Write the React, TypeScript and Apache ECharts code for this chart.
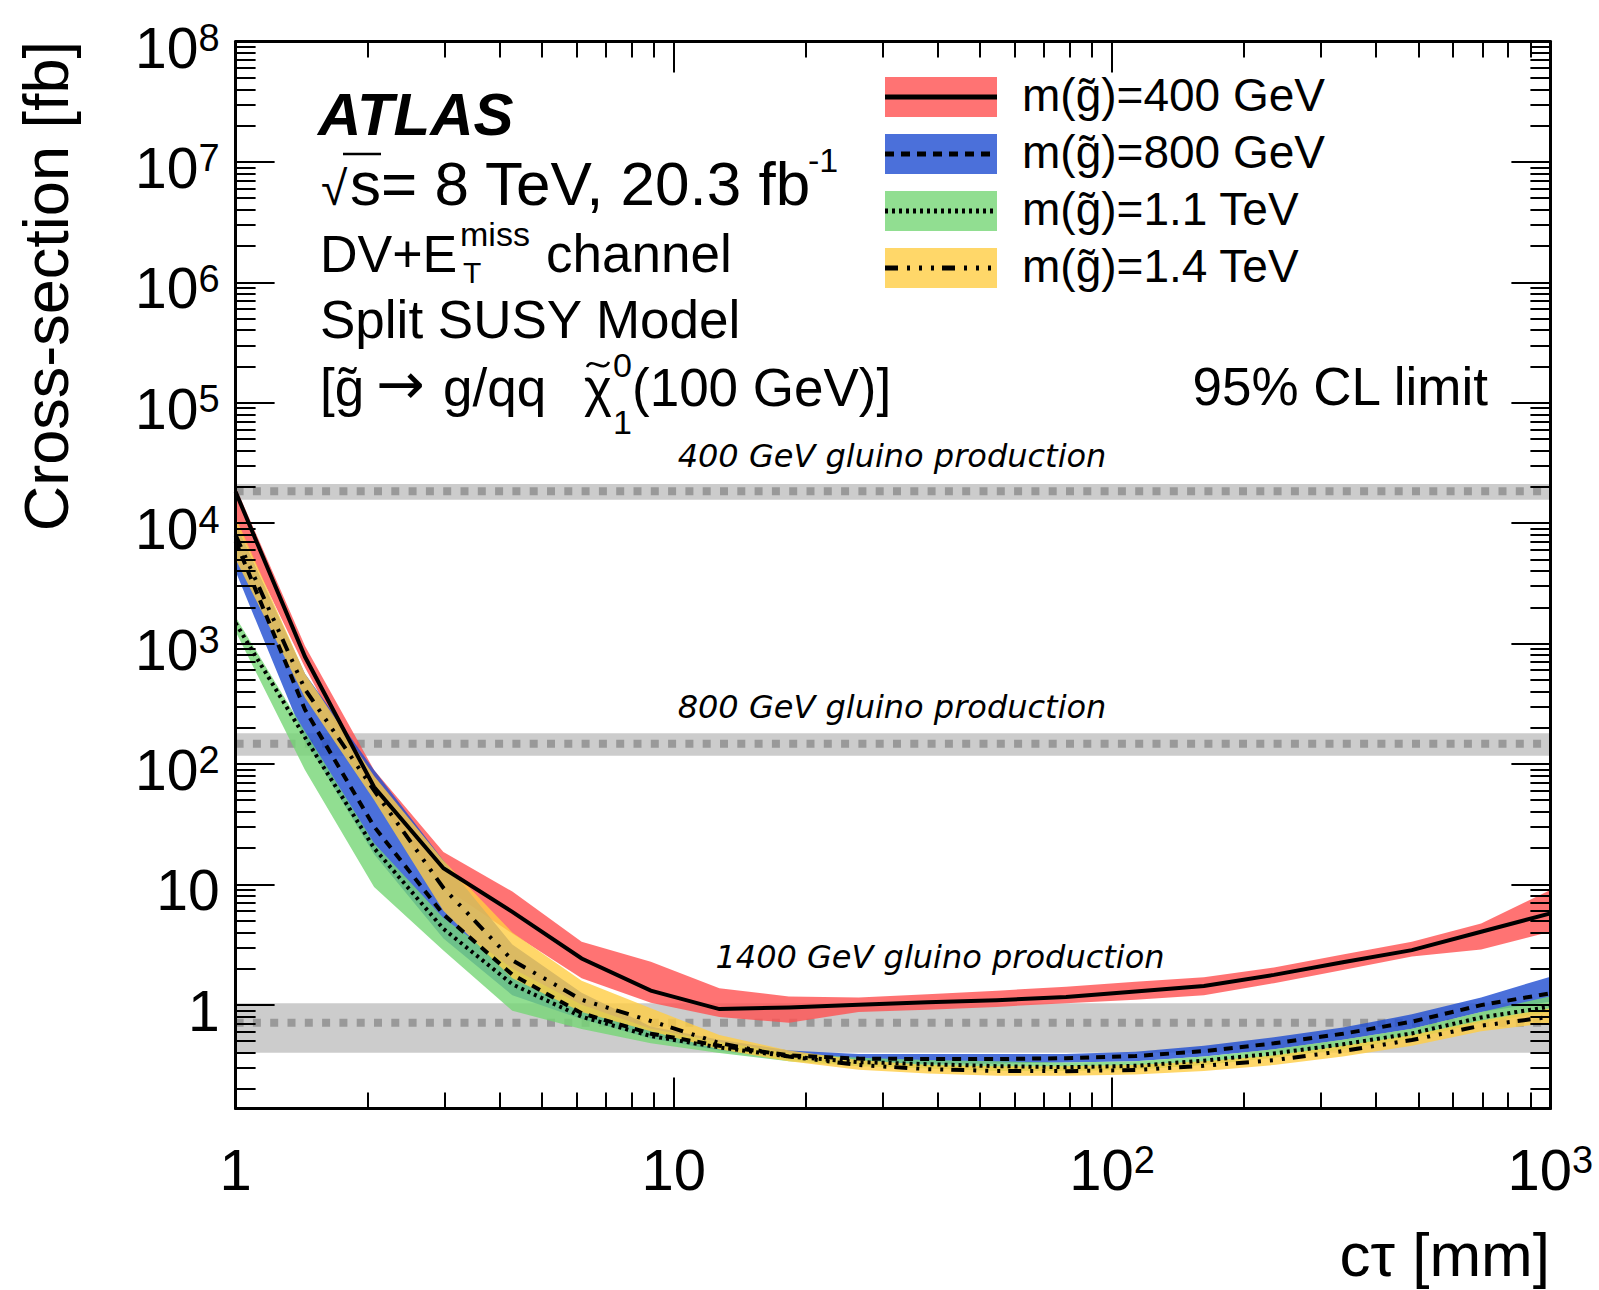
import React, { useEffect, useRef } from "react";
import * as echarts from "echarts";

// ---------------- data ----------------
// c·tau scan points [mm]
const CT = [1, 1.44, 2.07, 2.98, 4.28, 6.16, 8.86, 12.7, 18.3, 26.4, 37.9, 54.6, 78.5, 113, 162, 234, 336, 483, 695, 1000];

// m(gluino)=400 GeV : limit [fb] and band
const LIMIT_400 = [18200, 776, 64.3, 13.6, 5.9, 2.42, 1.31, 0.92, 0.95, 1.0, 1.05, 1.09, 1.16, 1.29, 1.43, 1.77, 2.25, 2.84, 4.04, 5.74];
const LOW_400 = [10000, 631, 55, 9.5, 3.9, 1.66, 1.04, 0.79, 0.71, 0.87, 0.91, 0.96, 1.03, 1.1, 1.2, 1.51, 1.94, 2.51, 2.88, 4.04];
const HIGH_400 = [20000, 955, 89, 18.6, 8.7, 3.33, 2.28, 1.37, 1.17, 1.15, 1.22, 1.31, 1.41, 1.55, 1.69, 2.04, 2.62, 3.33, 4.74, 8.97];

// m(gluino)=800 GeV
const LIMIT_800 = [7080, 282, 30.2, 5.62, 1.78, 0.85, 0.575, 0.457, 0.38, 0.357, 0.354, 0.354, 0.36, 0.375, 0.412, 0.478, 0.574, 0.723, 0.993, 1.245];
const LOW_800 = [3980, 158, 17.8, 3.55, 1.2, 0.76, 0.525, 0.417, 0.347, 0.324, 0.324, 0.324, 0.331, 0.339, 0.372, 0.427, 0.513, 0.631, 0.871, 1.06];
const HIGH_800 = [10000, 562, 89, 15.8, 3.16, 1.26, 0.66, 0.513, 0.417, 0.389, 0.389, 0.389, 0.389, 0.407, 0.457, 0.537, 0.646, 0.832, 1.15, 1.71];

// m(gluino)=1.1 TeV
const LIMIT_1100 = [1480, 166, 20, 4.27, 1.48, 0.794, 0.55, 0.442, 0.372, 0.334, 0.321, 0.309, 0.303, 0.311, 0.343, 0.394, 0.469, 0.578, 0.785, 0.962];
const LOW_1100 = [1260, 89, 9.5, 2.82, 0.89, 0.63, 0.479, 0.398, 0.339, 0.309, 0.295, 0.282, 0.282, 0.288, 0.316, 0.363, 0.427, 0.525, 0.708, 0.871];
const HIGH_1100 = [1660, 186, 21.9, 5.25, 2.0, 1.0, 0.631, 0.49, 0.398, 0.363, 0.347, 0.339, 0.331, 0.339, 0.372, 0.427, 0.513, 0.631, 0.871, 1.175];

// m(gluino)=1.4 TeV
const LIMIT_1400 = [7940, 417, 60.3, 9.33, 2.34, 1.1, 0.733, 0.481, 0.372, 0.316, 0.292, 0.282, 0.281, 0.287, 0.311, 0.347, 0.412, 0.509, 0.67, 0.794];
const LOW_1400 = [5010, 355, 50.1, 6.03, 1.66, 0.871, 0.603, 0.427, 0.339, 0.288, 0.269, 0.257, 0.257, 0.263, 0.282, 0.316, 0.372, 0.457, 0.603, 0.708];
const HIGH_1400 = [11200, 562, 79.4, 15.8, 3.98, 1.58, 0.933, 0.562, 0.417, 0.347, 0.316, 0.309, 0.309, 0.316, 0.339, 0.38, 0.457, 0.562, 0.741, 0.933];

// theoretical gluino production cross-sections [fb]
const GLUINO_LABELS = ["400 GeV gluino production", "800 GeV gluino production", "1400 GeV gluino production"];
const GLUINO_XSEC = [18400, 147, 0.71];
const GLUINO_XSEC_LOW = [15600, 117, 0.4];
const GLUINO_XSEC_HIGH = [21100, 180, 1.03];

const LEGEND_LABELS = ["m(g\u0303)=400 GeV", "m(g\u0303)=800 GeV", "m(g\u0303)=1.1 TeV", "m(g\u0303)=1.4 TeV"];

const X_MIN = 1;
const X_MAX = 1000;
const Y_MIN = 0.1375;
const Y_MAX = 1e8;

// ---------------- styling ----------------
const FONT = "'Liberation Sans', Arial, Helvetica, sans-serif";
const BAND_COLORS = ["rgba(255,80,80,0.8)", "rgba(30,76,209,0.8)", "rgba(117,214,117,0.8)", "rgba(255,205,67,0.8)"];
const DASHES: (number[] | "solid")[] = ["solid", [9, 7], [3, 4], [13, 9, 3, 9, 3, 9, 3, 8]];

function minorTicks(eLo: number, eHi: number): number[] {
  const out: number[] = [];
  for (let e = eLo; e < eHi; e++) for (let m = 2; m <= 9; m++) out.push(m * Math.pow(10, e));
  return out;
}
const X_MINOR = minorTicks(0, 3);
const Y_MINOR = minorTicks(-1, 8);

function powLabel(v: number): string {
  const l = Math.log10(v);
  const e = Math.round(l);
  if (Math.abs(l - e) > 1e-6) return "";
  if (e === 0) return "{b|1}";
  if (e === 1) return "{b|10}";
  return "{b|10}{s|" + e + "}";
}

const xRich = {
  b: { fontSize: 58, lineHeight: 58, fontFamily: FONT, color: "#000", verticalAlign: "bottom" },
  s: { fontSize: 38, lineHeight: 20, fontFamily: FONT, color: "#000", verticalAlign: "top" },
};
const yRich = {
  b: { fontSize: 57, lineHeight: 57, fontFamily: FONT, color: "#000", verticalAlign: "bottom" },
  s: { fontSize: 38, lineHeight: 20, fontFamily: FONT, color: "#000", verticalAlign: "top" },
};

const frameLine = { show: true, onZero: false, lineStyle: { color: "#000", width: 3 } };
const tickStyle = { color: "#000", width: 2 };

function axis(kind: "x" | "y", position: string, major: boolean, labels: boolean): any {
  const isX = kind === "x";
  return {
    type: "log",
    logBase: 10,
    min: isX ? X_MIN : Y_MIN,
    max: isX ? X_MAX : Y_MAX,
    position,
    z: 10,
    axisLine: major ? frameLine : { show: false },
    axisTick: major
      ? { show: true, inside: true, length: isX ? 31 : 39, lineStyle: tickStyle }
      : { show: true, inside: true, length: isX ? 16 : 20, lineStyle: tickStyle, customValues: isX ? X_MINOR : Y_MINOR },
    axisLabel: labels
      ? {
          show: true,
          margin: isX ? 32 : 16,
          padding: isX ? 0 : [12, 0, 0, 0],
          formatter: powLabel,
          rich: isX ? xRich : yRich,
          showMinLabel: true,
          showMaxLabel: true,
          hideOverlap: false,
        }
      : { show: false },
    splitLine: { show: false },
    minorTick: { show: false },
    minorSplitLine: { show: false },
  };
}

function bandSeries(low: number[], high: number[], color: string, z: number): any {
  return {
    type: "custom",
    xAxisIndex: 0,
    yAxisIndex: 0,
    z,
    silent: true,
    clip: true,
    data: [[CT[0], low[0]]],
    renderItem: (_params: any, api: any) => {
      const pts: number[][] = [];
      for (let i = 0; i < CT.length; i++) pts.push(api.coord([CT[i], high[i]]));
      for (let i = CT.length - 1; i >= 0; i--) pts.push(api.coord([CT[i], low[i]]));
      return { type: "polygon", shape: { points: pts }, style: { fill: color } };
    },
  };
}

function hBandSeries(low: number, high: number): any {
  return {
    type: "custom",
    xAxisIndex: 0,
    yAxisIndex: 0,
    z: 1,
    silent: true,
    clip: true,
    data: [[X_MIN, low]],
    renderItem: (_params: any, api: any) => {
      const pts = [
        api.coord([X_MIN, high]),
        api.coord([X_MAX, high]),
        api.coord([X_MAX, low]),
        api.coord([X_MIN, low]),
      ];
      return { type: "polygon", shape: { points: pts }, style: { fill: "#cccccc" } };
    },
  };
}

function limitLine(values: number[], dash: any): any {
  return {
    type: "line",
    xAxisIndex: 0,
    yAxisIndex: 0,
    z: 6,
    silent: true,
    symbol: "none",
    data: CT.map((x, i) => [x, values[i]]),
    lineStyle: { color: "#000", width: 4, type: dash, cap: "butt", join: "miter" },
  };
}

// text helper: (x, baseline) positioning
function txt(text: string, x: number, baseline: number, fs: number, o: any = {}): any {
  return {
    type: "text",
    x,
    y: baseline - 0.3465 * fs,
    z: 100,
    silent: true,
    style: {
      text,
      fontSize: fs,
      fontFamily: o.family || FONT,
      fontStyle: o.italic ? "italic" : "normal",
      fontWeight: o.bold ? "bold" : "normal",
      fill: "#000",
      align: o.align || "left",
      verticalAlign: "middle",
    },
  };
}

function buildOption(): any {
  const series: any[] = [];
  for (let i = 0; i < GLUINO_XSEC.length; i++) {
    series.push(hBandSeries(GLUINO_XSEC_LOW[i], GLUINO_XSEC_HIGH[i]));
    series.push({
      type: "line",
      z: 2,
      silent: true,
      symbol: "none",
      data: [
        [X_MIN, GLUINO_XSEC[i]],
        [X_MAX, GLUINO_XSEC[i]],
      ],
      lineStyle: { color: "#999999", width: 8, type: [8, 9.3], cap: "butt" },
    });
  }
  const bands = [
    [LOW_400, HIGH_400],
    [LOW_800, HIGH_800],
    [LOW_1100, HIGH_1100],
    [LOW_1400, HIGH_1400],
  ];
  bands.forEach((b, i) => series.push(bandSeries(b[0], b[1], BAND_COLORS[i], 3)));
  [LIMIT_400, LIMIT_800, LIMIT_1100, LIMIT_1400].forEach((v, i) => series.push(limitLine(v, DASHES[i])));

  const graphic: any[] = [];
  // y-axis title (rotated)
  graphic.push({
    type: "text",
    x: 46,
    y: 41,
    rotation: Math.PI / 2,
    z: 100,
    silent: true,
    style: { text: "Cross-section [fb]", fontSize: 63, fontFamily: FONT, fill: "#000", align: "right", verticalAlign: "middle" },
  });
  // x-axis title
  graphic.push(txt("c\u03C4 [mm]", 1550, 1276, 62, { align: "right" }));

  // ATLAS block
  graphic.push(txt("ATLAS", 318, 135, 60, { bold: true, italic: true }));
  graphic.push(txt("\u221A", 321, 205, 48));
  graphic.push({ type: "line", z: 100, silent: true, shape: { x1: 343, y1: 154, x2: 381, y2: 154 }, style: { stroke: "#000", lineWidth: 2.5 } });
  graphic.push(txt("s= 8 TeV, 20.3 fb", 350, 205, 62));
  graphic.push(txt("-1", 808, 172, 34));
  graphic.push(txt("DV+E", 320, 272, 52));
  graphic.push(txt("miss", 460, 246, 34));
  graphic.push(txt("T", 463, 283, 30));
  graphic.push(txt("channel", 546, 272, 53));
  graphic.push(txt("Split SUSY Model", 320, 338, 53));
  graphic.push(txt("[g\u0303", 320, 406, 53));
  graphic.push(txt("\u2192", 376, 404, 58, { family: "'DejaVu Sans', sans-serif" }));
  graphic.push(txt("g/qq", 443, 406, 53));
  graphic.push(txt("\u03C7", 584, 406, 53));
  // tilde over chi
  graphic.push({
    type: "bezierCurve",
    z: 100,
    silent: true,
    shape: { x1: 587, y1: 367, cpx1: 592, cpy1: 356, cpx2: 603, cpy2: 374, x2: 609, y2: 362 },
    style: { stroke: "#000", lineWidth: 2.5, fill: null },
  });
  graphic.push(txt("0", 613, 377, 34));
  graphic.push(txt("1", 613, 434, 34));
  graphic.push(txt("(100 GeV)]", 632, 406, 53));
  graphic.push(txt("95% CL limit", 1488, 405, 53, { align: "right" }));

  // gluino production labels
  const labelPos = [
    [892, 467],
    [892, 718],
    [940, 968],
  ];
  GLUINO_LABELS.forEach((t, i) =>
    graphic.push(txt(t, labelPos[i][0], labelPos[i][1], 32, { italic: true, align: "center", family: "'DejaVu Sans', sans-serif" }))
  );

  // legend
  LEGEND_LABELS.forEach((t, i) => {
    const top = 77 + 57 * i;
    graphic.push({ type: "rect", z: 90, silent: true, shape: { x: 885, y: top, width: 112, height: 40 }, style: { fill: BAND_COLORS[i] } });
    const dash = DASHES[i];
    graphic.push({
      type: "line",
      z: 91,
      silent: true,
      shape: { x1: 885, y1: top + 20, x2: 997, y2: top + 20 },
      style: { stroke: "#000", lineWidth: 5, lineDash: dash === "solid" ? null : dash, lineCap: "butt" },
    });
    graphic.push(txt(t, 1022, top + 34, 46));
  });

  return {
    animation: false,
    backgroundColor: "#fff",
    textStyle: { fontFamily: FONT },
    grid: { left: 235.6, right: 48.6, top: 41.5, bottom: 181.5, containLabel: false },
    xAxis: [axis("x", "bottom", true, true), axis("x", "bottom", false, false), axis("x", "top", true, false), axis("x", "top", false, false)],
    yAxis: [axis("y", "left", true, true), axis("y", "left", false, false), axis("y", "right", true, false), axis("y", "right", false, false)],
    series,
    graphic,
  };
}

export default function App() {
  const ref = useRef<HTMLDivElement>(null);
  useEffect(() => {
    if (!ref.current) return;
    const chart = echarts.init(ref.current, null, { renderer: "svg" });
    chart.setOption(buildOption());
    return () => chart.dispose();
  }, []);
  return (
    <div
      ref={ref}
      style={{ position: "fixed", left: 0, top: 0, width: 1599, height: 1290, background: "#fff" }}
    />
  );
}
